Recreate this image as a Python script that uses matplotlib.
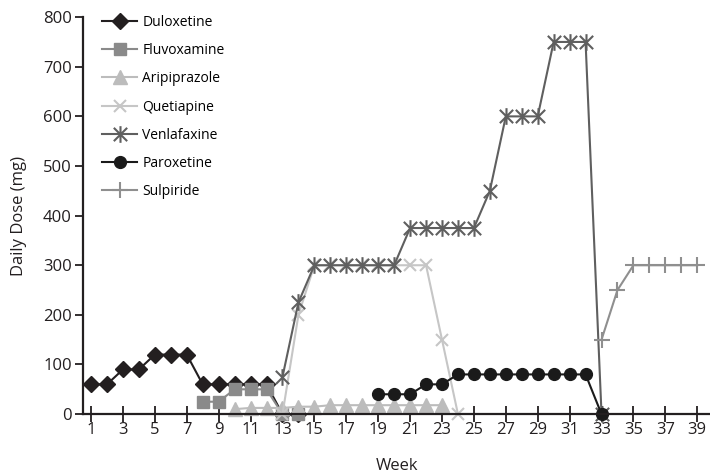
import matplotlib.pyplot as plt
from matplotlib.path import Path

plt.rcParams['font.family'] = ['Open Sans', 'DejaVu Sans']

# weeks and daily doses (mg) per drug
dul_weeks = list(range(1, 15))
dul_dose = [60, 60, 90, 90, 120, 120, 120, 60, 60, 60, 60, 60, 0, 0]

flu_weeks = list(range(8, 15))
flu_dose = [25, 25, 50, 50, 50, 0, 0]

ari_weeks = list(range(10, 24))
ari_dose = [10, 12.5, 12.5, 12.5, 15, 15, 18, 18, 18, 18, 18, 18, 18, 18]

que_weeks = list(range(13, 25))
que_dose = [0, 200, 300, 300, 300, 300, 300, 300, 300, 300, 150, 0]

ven_weeks = list(range(13, 34))
ven_dose = [75, 225, 300, 300, 300, 300, 300, 300, 375, 375, 375, 375, 375,
            450, 600, 600, 600, 750, 750, 750, 0]

par_weeks = list(range(19, 34))
par_dose = [40, 40, 40, 60, 60, 80, 80, 80, 80, 80, 80, 80, 80, 80, 0]

sul_weeks = list(range(33, 40))
sul_dose = [150, 250, 300, 300, 300, 300, 300]

# excel-style star: an x with a vertical bar through it
star = Path([(-1, -1), (1, 1), (-1, 1), (1, -1), (0, -1.25), (0, 1.25)],
            [Path.MOVETO, Path.LINETO, Path.MOVETO, Path.LINETO, Path.MOVETO, Path.LINETO])

fig = plt.figure(figsize=(7.1, 4.76), dpi=100)
ax = fig.add_axes([0.117, 0.130, 0.883, 0.834])

kw = dict(lw=1.5, clip_on=False)
ax.plot(dul_weeks, dul_dose, color='#231f20', marker='D', ms=8, label='Duloxetine', **kw)
ax.plot(flu_weeks, flu_dose, color='#8a8a8a', marker='s', ms=8.5, label='Fluvoxamine', **kw)
ax.plot(ari_weeks, ari_dose, color='#bcbcbc', marker='^', ms=10, label='Aripiprazole', **kw)
ax.plot(que_weeks, que_dose, color='#c6c6c6', marker='x', ms=9, mew=1.5, label='Quetiapine', **kw)
ax.plot(ven_weeks, ven_dose, color='#5f5f5f', marker=star, ms=12, mew=1.5, label='Venlafaxine', **kw)
ax.plot(par_weeks, par_dose, color='#1a1a1a', marker='o', ms=8.5, label='Paroxetine', **kw)
ax.plot(sul_weeks, sul_dose, color='#8f8f8f', marker='+', ms=11, mew=1.5, label='Sulpiride', **kw)

ax.set_xlim(0.5, 39.8)
ax.set_ylim(0, 800)
ax.set_xticks(range(1, 40, 2))
ax.set_yticks(range(0, 801, 100))
for s in ['top', 'right']:
    ax.spines[s].set_visible(False)
for s in ['left', 'bottom']:
    ax.spines[s].set_linewidth(1.6)
    ax.spines[s].set_color('#231f20')
ax.tick_params(axis='x', direction='inout', length=11, width=1.3, labelsize=12, pad=0,
               colors='#231f20')
ax.tick_params(axis='y', direction='out', length=6, width=1.3, labelsize=12, pad=2,
               colors='#231f20')

ax.set_xlabel('Week', fontsize=12, color='#231f20')
ax.xaxis.set_label_coords(0.5, -0.11)
ax.set_ylabel('Daily Dose (mg)', fontsize=12, color='#231f20')
ax.yaxis.set_label_coords(-0.09, 0.5)

ax.legend(loc='upper left', bbox_to_anchor=(0.015, 1.03), frameon=False, fontsize=10,
          handlelength=2.5, handletextpad=0.4, labelspacing=0.95, borderaxespad=0.3)

fig.savefig('out.png', dpi=100)
